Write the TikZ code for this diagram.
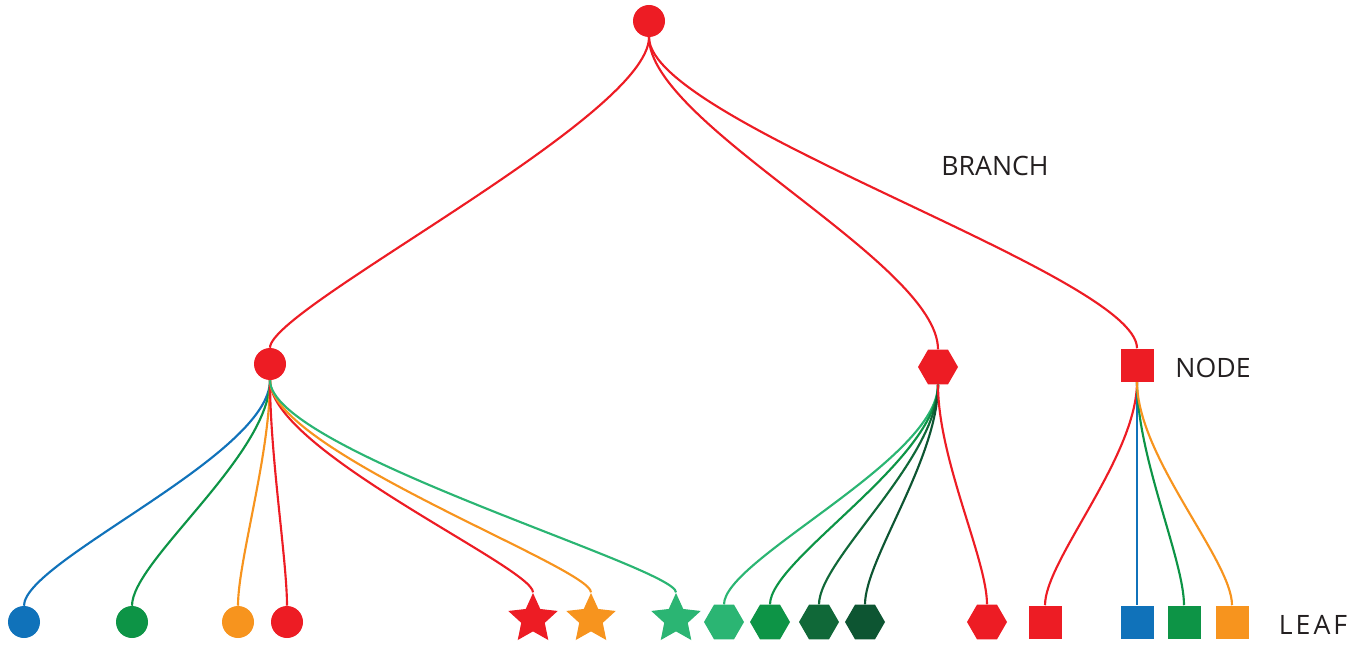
\documentclass[tikz,border=0pt]{standalone}
\usepackage{fontspec}
\setmainfont{Open Sans}
\usetikzlibrary{shapes.geometric}
\pgfdeclarelayer{edges}
\pgfsetlayers{edges,main}

\definecolor{cred}{HTML}{ED1C24}
\definecolor{cblue}{HTML}{1072BA}
\definecolor{cgreen}{HTML}{0D9446}
\definecolor{corange}{HTML}{F7941E}
\definecolor{cteal}{HTML}{2BB573}
\definecolor{cdark}{HTML}{106838}
\definecolor{cdarker}{HTML}{0D5532}
\definecolor{ctext}{HTML}{231F20}

\tikzset{
  dot/.style={circle, fill=#1, draw=none, minimum size=24pt, inner sep=0pt},
  box/.style={rectangle, fill=#1, draw=none, minimum size=24.75pt, inner sep=0pt},
  hex/.style={regular polygon, regular polygon sides=6, fill=#1, draw=none, minimum size=30pt, inner sep=0pt},
  starleaf/.style={star, star points=5, star point ratio=2.1, fill=#1, draw=none, minimum size=39pt, inner sep=0pt},
  link/.style={line width=1.6pt, #1},
  label/.style={text=ctext, font=\fontsize{20}{24}\selectfont, inner sep=0pt},
}

% curved connector leaving the parent downwards and entering the child from above;
% #4 and #5 are the lengths of the start and end handles
\newcommand\treelink[5]{%
  \draw[link=#1] (#2.south) .. controls +(0,#4) and +(0,-#5) .. (#3.north);}

\begin{document}
\begin{tikzpicture}[x=0.75pt, y=-0.75pt]
\useasboundingbox (0,0) rectangle (1362,645);

% root
\node[dot=cred] (root) at (649,21) {};

% middle level
\node[dot=cred] (nc) at (270,364) {};
\node[hex=cred] (nh) at (938,367) {};
\node[box=cred] (ns) at (1137,365) {};

% leaves under the circle
\node[dot=cblue]   (l1) at (24,622) {};
\node[dot=cgreen]  (l2) at (132,622) {};
\node[dot=corange] (l3) at (238,622) {};
\node[dot=cred]    (l4) at (287,622) {};
\node[starleaf=cred]    (l5) at (533,619) {};
\node[starleaf=corange] (l6) at (591,619) {};
\node[starleaf=cteal]   (l7) at (676,619) {};

% leaves under the hexagon
\node[hex=cteal]   (h1) at (724,622) {};
\node[hex=cgreen]  (h2) at (770,622) {};
\node[hex=cdark]   (h3) at (819,622) {};
\node[hex=cdarker] (h4) at (865,622) {};
\node[hex=cred]    (h5) at (987,622) {};

% leaves under the square
\node[box=cred]    (s1) at (1045,622) {};
\node[box=cblue]   (s2) at (1137,622) {};
\node[box=cgreen]  (s3) at (1184,622) {};
\node[box=corange] (s4) at (1232,622) {};

% level labels
\node[label] (tb) at (995,166) {BRANCH};
\node[label] (tn) at (1213,368) {NODE};
\node[label, font=\fontsize{20}{24}\selectfont\addfontfeature{LetterSpace=11}] (tl) at (1313,625) {LEAF};

\begin{pgfonlayer}{edges}
  \treelink{cred}{root}{nc}{80}{40}
  \treelink{cred}{root}{nh}{87}{87}
  \treelink{cred}{root}{ns}{85}{73}

  \treelink{cblue}{nc}{l1}{75}{45}
  \treelink{cgreen}{nc}{l2}{75}{45}
  \treelink{corange}{nc}{l3}{75}{45}
  \treelink{cred}{nc}{l4}{75}{45}
  \treelink{cred}{nc}{l5}{70}{25}
  \treelink{corange}{nc}{l6}{70}{25}
  \treelink{cteal}{nc}{l7}{70}{25}

  \treelink{cteal}{nh}{h1}{75}{45}
  \treelink{cgreen}{nh}{h2}{75}{45}
  \treelink{cdark}{nh}{h3}{75}{45}
  \treelink{cdarker}{nh}{h4}{75}{45}
  \treelink{cred}{nh}{h5}{75}{45}

  \treelink{cred}{ns}{s1}{75}{45}
  \treelink{cblue}{ns}{s2}{75}{45}
  \treelink{cgreen}{ns}{s3}{75}{45}
  \treelink{corange}{ns}{s4}{75}{45}
\end{pgfonlayer}
\end{tikzpicture}
\end{document}
